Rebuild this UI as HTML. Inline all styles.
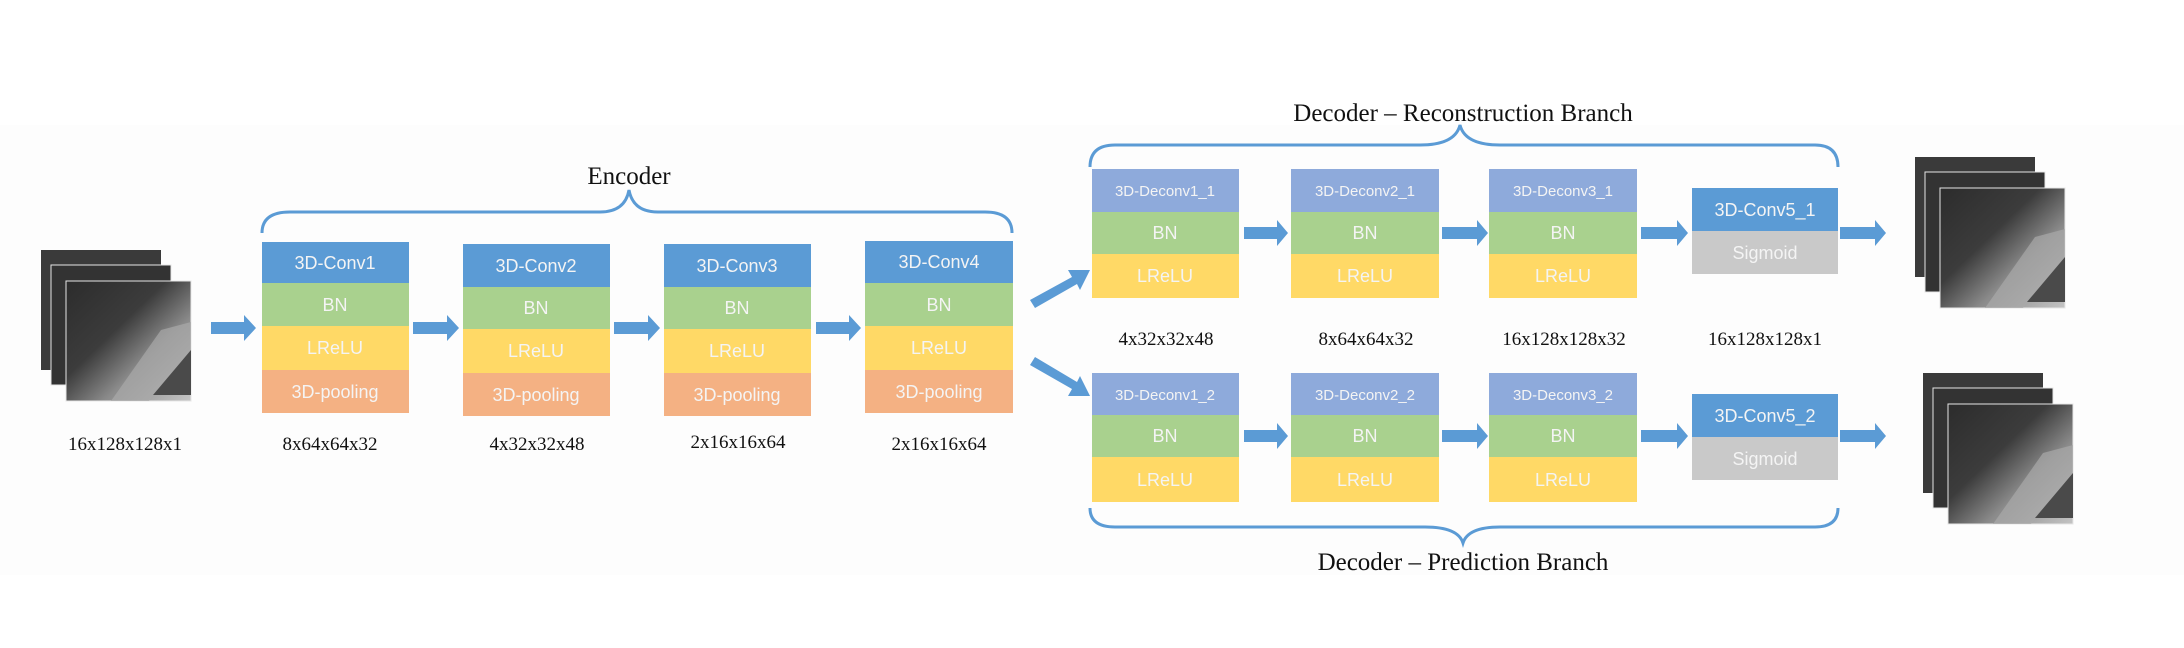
<!DOCTYPE html>
<html><head><meta charset="utf-8"><style>
html,body{margin:0;padding:0;background:#fff;}
svg{display:block;}
.b{font-family:"Liberation Sans",sans-serif;fill:#f4f4f4;font-size:18px;text-anchor:middle;}
.d{font-family:"Liberation Sans",sans-serif;fill:#f4f4f4;font-size:15px;text-anchor:middle;}
.l{font-family:"Liberation Serif",serif;fill:#111;font-size:19px;text-anchor:middle;}
.t{font-family:"Liberation Serif",serif;fill:#111;font-size:25px;text-anchor:middle;}
</style></head><body>
<svg width="2184" height="648" viewBox="0 0 2184 648" xmlns="http://www.w3.org/2000/svg">
<defs>
<linearGradient id="ph" x1="0" y1="0" x2="1" y2="1">
<stop offset="0" stop-color="#2c2c2c"/><stop offset="0.4" stop-color="#3c3c3c"/><stop offset="0.65" stop-color="#8a8a8a"/><stop offset="1" stop-color="#c4c4c4"/>
</linearGradient>
<g id="img">
<rect x="0" y="0" width="120" height="120" fill="#3a3a3a"/>
<rect x="10" y="15" width="120" height="120" fill="#333" stroke="#e6e6e6" stroke-width="1"/>
<rect x="25" y="31" width="125" height="120" fill="url(#ph)" stroke="#e6e6e6" stroke-width="1"/>
<polygon points="70,151 120,80 150,72 150,100 108,151" fill="#aaa" opacity="0.7"/>
<polygon points="150,100 150,145 112,145" fill="#4a4a4a"/>
</g>
</defs>
<rect width="2184" height="648" fill="#fff"/>
<rect x="0" y="125" width="2184" height="450" fill="#fdfdfd"/>

<use href="#img" x="41" y="250"/>
<text class="l" x="125" y="450">16x128x128x1</text>

<path d="M262,233 Q262,212 290,212 L600,212 Q625,212 629,190 Q633,212 658,212 L985,212 Q1012,212 1012,233" fill="none" stroke="#5b9bd5" stroke-width="3"/>
<text class="t" x="629" y="184">Encoder</text>

<g>
<rect x="262" y="242" width="147" height="41" fill="#5b9bd5"/><rect x="262" y="283" width="147" height="43" fill="#a9d18e"/><rect x="262" y="326" width="147" height="44" fill="#ffd966"/><rect x="262" y="370" width="147" height="43" fill="#f4b183"/>
<text class="b" x="335" y="269">3D-Conv1</text><text class="b" x="335" y="311">BN</text><text class="b" x="335" y="354">LReLU</text><text class="b" x="335" y="398">3D-pooling</text>
<text class="l" x="330" y="450">8x64x64x32</text>
</g>
<g>
<rect x="463" y="244" width="147" height="43" fill="#5b9bd5"/><rect x="463" y="287" width="147" height="42" fill="#a9d18e"/><rect x="463" y="329" width="147" height="44" fill="#ffd966"/><rect x="463" y="373" width="147" height="43" fill="#f4b183"/>
<text class="b" x="536" y="272">3D-Conv2</text><text class="b" x="536" y="314">BN</text><text class="b" x="536" y="357">LReLU</text><text class="b" x="536" y="401">3D-pooling</text>
<text class="l" x="537" y="450">4x32x32x48</text>
</g>
<g>
<rect x="664" y="244" width="147" height="43" fill="#5b9bd5"/><rect x="664" y="287" width="147" height="42" fill="#a9d18e"/><rect x="664" y="329" width="147" height="44" fill="#ffd966"/><rect x="664" y="373" width="147" height="43" fill="#f4b183"/>
<text class="b" x="737" y="272">3D-Conv3</text><text class="b" x="737" y="314">BN</text><text class="b" x="737" y="357">LReLU</text><text class="b" x="737" y="401">3D-pooling</text>
<text class="l" x="738" y="448">2x16x16x64</text>
</g>
<g>
<rect x="865" y="241" width="148" height="42" fill="#5b9bd5"/><rect x="865" y="283" width="148" height="43" fill="#a9d18e"/><rect x="865" y="326" width="148" height="44" fill="#ffd966"/><rect x="865" y="370" width="148" height="43" fill="#f4b183"/>
<text class="b" x="939" y="268">3D-Conv4</text><text class="b" x="939" y="311">BN</text><text class="b" x="939" y="354">LReLU</text><text class="b" x="939" y="398">3D-pooling</text>
<text class="l" x="939" y="450">2x16x16x64</text>
</g>

<g fill="#5b9bd5">
<polygon points="211,322 244,322 244,315 256,328 244,341 244,334 211,334"/>
<polygon points="413,322 447,322 447,315 459,328 447,341 447,334 413,334"/>
<polygon points="614,322 648,322 648,315 660,328 648,341 648,334 614,334"/>
<polygon points="816,322 849,322 849,315 861,328 849,341 849,334 816,334"/>
<polygon points="1030,300 1072,277 1068,270 1090,270 1080,290 1077,284 1035,308"/>
<polygon points="1030,365 1072,389 1068,396 1090,396 1080,376 1077,382 1035,357"/>
</g>

<path d="M1090,167 Q1090,145 1115,145 L1420,145 Q1455,145 1460,125 Q1465,145 1500,145 L1815,145 Q1838,145 1838,167" fill="none" stroke="#5b9bd5" stroke-width="3"/>
<text class="t" x="1463" y="121">Decoder – Reconstruction Branch</text>
<path d="M1090,508 Q1090,527 1115,527 L1425,527 Q1458,527 1463,543 Q1468,527 1500,527 L1815,527 Q1838,527 1838,508" fill="none" stroke="#5b9bd5" stroke-width="3"/>
<text class="t" x="1463" y="570">Decoder – Prediction Branch</text>

<g>
<rect x="1092" y="169" width="147" height="43" fill="#8eaadb"/><rect x="1092" y="212" width="147" height="42" fill="#a9d18e"/><rect x="1092" y="254" width="147" height="44" fill="#ffd966"/>
<text class="d" x="1165" y="196">3D-Deconv1_1</text><text class="b" x="1165" y="239">BN</text><text class="b" x="1165" y="282">LReLU</text>
<rect x="1291" y="169" width="148" height="43" fill="#8eaadb"/><rect x="1291" y="212" width="148" height="42" fill="#a9d18e"/><rect x="1291" y="254" width="148" height="44" fill="#ffd966"/>
<text class="d" x="1365" y="196">3D-Deconv2_1</text><text class="b" x="1365" y="239">BN</text><text class="b" x="1365" y="282">LReLU</text>
<rect x="1489" y="169" width="148" height="43" fill="#8eaadb"/><rect x="1489" y="212" width="148" height="42" fill="#a9d18e"/><rect x="1489" y="254" width="148" height="44" fill="#ffd966"/>
<text class="d" x="1563" y="196">3D-Deconv3_1</text><text class="b" x="1563" y="239">BN</text><text class="b" x="1563" y="282">LReLU</text>
<rect x="1692" y="188" width="146" height="43" fill="#5b9bd5"/><rect x="1692" y="231" width="146" height="43" fill="#c9c9c9"/>
<text class="b" x="1765" y="216">3D-Conv5_1</text><text class="b" x="1765" y="259">Sigmoid</text>
</g>
<text class="l" x="1166" y="345">4x32x32x48</text>
<text class="l" x="1366" y="345">8x64x64x32</text>
<text class="l" x="1564" y="345">16x128x128x32</text>
<text class="l" x="1765" y="345">16x128x128x1</text>

<g>
<rect x="1092" y="373" width="147" height="42" fill="#8eaadb"/><rect x="1092" y="415" width="147" height="42" fill="#a9d18e"/><rect x="1092" y="457" width="147" height="45" fill="#ffd966"/>
<text class="d" x="1165" y="400">3D-Deconv1_2</text><text class="b" x="1165" y="442">BN</text><text class="b" x="1165" y="486">LReLU</text>
<rect x="1291" y="373" width="148" height="42" fill="#8eaadb"/><rect x="1291" y="415" width="148" height="42" fill="#a9d18e"/><rect x="1291" y="457" width="148" height="45" fill="#ffd966"/>
<text class="d" x="1365" y="400">3D-Deconv2_2</text><text class="b" x="1365" y="442">BN</text><text class="b" x="1365" y="486">LReLU</text>
<rect x="1489" y="373" width="148" height="42" fill="#8eaadb"/><rect x="1489" y="415" width="148" height="42" fill="#a9d18e"/><rect x="1489" y="457" width="148" height="45" fill="#ffd966"/>
<text class="d" x="1563" y="400">3D-Deconv3_2</text><text class="b" x="1563" y="442">BN</text><text class="b" x="1563" y="486">LReLU</text>
<rect x="1692" y="394" width="146" height="43" fill="#5b9bd5"/><rect x="1692" y="437" width="146" height="43" fill="#c9c9c9"/>
<text class="b" x="1765" y="422">3D-Conv5_2</text><text class="b" x="1765" y="465">Sigmoid</text>
</g>

<g fill="#5b9bd5">
<polygon points="1244,227 1277,227 1277,220 1288,233 1277,246 1277,239 1244,239"/>
<polygon points="1442,227 1477,227 1477,220 1488,233 1477,246 1477,239 1442,239"/>
<polygon points="1641,227 1677,227 1677,220 1688,233 1677,246 1677,239 1641,239"/>
<polygon points="1840,227 1875,227 1875,220 1886,233 1875,246 1875,239 1840,239"/>
<polygon points="1244,430 1277,430 1277,423 1288,436 1277,449 1277,442 1244,442"/>
<polygon points="1442,430 1477,430 1477,423 1488,436 1477,449 1477,442 1442,442"/>
<polygon points="1641,430 1677,430 1677,423 1688,436 1677,449 1677,442 1641,442"/>
<polygon points="1840,430 1875,430 1875,423 1886,436 1875,449 1875,442 1840,442"/>
</g>

<use href="#img" x="1915" y="157"/>
<use href="#img" x="1923" y="373"/>
</svg>
</body></html>
